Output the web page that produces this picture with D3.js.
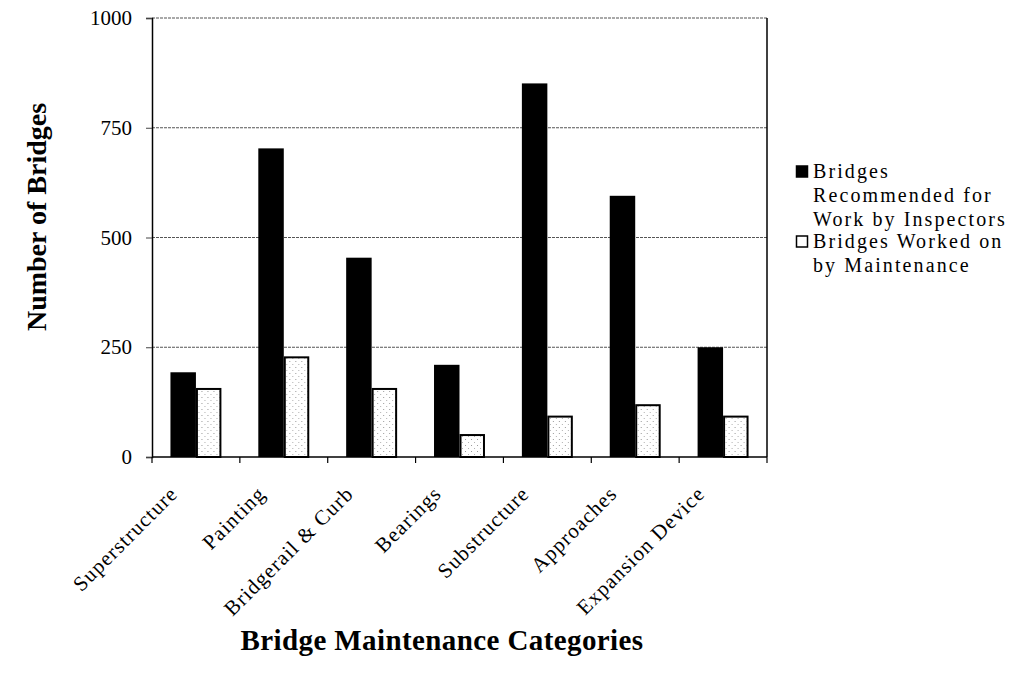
<!DOCTYPE html>
<html>
<head>
<meta charset="utf-8">
<script src="https://cdn.jsdelivr.net/npm/d3@7/dist/d3.min.js"></script>
<style>
  html, body { margin: 0; padding: 0; background: #fff; }
  svg { display: block; }
  svg text { font-family: "Liberation Serif", "Times New Roman", serif; fill: #000; }
</style>
</head>
<body>
<svg id="chart" width="1019" height="676"></svg>
<script>
// Bridge maintenance categories and counts
const categories = ["Superstructure", "Painting", "Bridgerail & Curb", "Bearings",
                    "Substructure", "Approaches", "Expansion Device"];
const recommended = [193, 703, 454, 210, 851, 595, 250];
const workedOn    = [155, 227, 155, 50, 92, 118, 92];
const seriesNames = ["Bridges Recommended for Work by Inspectors",
                     "Bridges Worked on by Maintenance"];
const legendLines = [["Bridges", "Recommended for", "Work by Inspectors"],
                     ["Bridges Worked on", "by Maintenance"]];
const yTicks = [0, 250, 500, 750, 1000];

const FONT = "'Liberation Serif', 'Times New Roman', serif";
const svg = d3.select("#chart");
const plot = { left: 152, right: 767, top: 18, bottom: 457 };

// stipple fill for the maintenance bars
const defs = svg.append("defs");
const pat = defs.append("pattern").attr("id", "stipple")
  .attr("patternUnits", "userSpaceOnUse").attr("width", 6).attr("height", 6);
pat.append("rect").attr("width", 6).attr("height", 6).attr("fill", "#fff");
pat.append("rect").attr("x", 1).attr("y", 1).attr("width", 1).attr("height", 1).attr("fill", "#9a9a9a");
pat.append("rect").attr("x", 4).attr("y", 4).attr("width", 1).attr("height", 1).attr("fill", "#b0b0b0");

const x = d3.scaleBand().domain(categories).range([plot.left, plot.right])
  .paddingInner(0.42).paddingOuter(0.21);
const xs = d3.scaleBand().domain([0, 1]).range([0, x.bandwidth()]);
const y = d3.scaleLinear().domain([0, 1000]).range([plot.bottom, plot.top]);

// horizontal gridlines
svg.append("g").selectAll("line").data(yTicks.filter(d => d > 0)).join("line")
  .attr("x1", plot.left).attr("x2", plot.right)
  .attr("y1", d => y(d)).attr("y2", d => y(d))
  .attr("stroke", "#555").attr("stroke-width", 1.2).attr("stroke-dasharray", "3,1");

// bars
const groups = svg.append("g").selectAll("g").data(categories).join("g")
  .attr("transform", d => `translate(${x(d)},0)`);
groups.append("rect")
  .attr("x", xs(0)).attr("width", xs.bandwidth())
  .attr("y", (d, i) => y(recommended[i]))
  .attr("height", (d, i) => y(0) - y(recommended[i]))
  .attr("fill", "#000");
groups.append("rect")
  .attr("x", xs(1) + 1).attr("width", xs.bandwidth() - 2)
  .attr("y", (d, i) => y(workedOn[i]))
  .attr("height", (d, i) => y(0) - y(workedOn[i]))
  .attr("fill", "url(#stipple)").attr("stroke", "#000").attr("stroke-width", 2);

// y axis
const yAxis = svg.append("g").attr("transform", `translate(${plot.left},0)`)
  .call(d3.axisLeft(y).tickValues(yTicks).tickSize(6).tickPadding(14).tickFormat(d3.format("d")));
yAxis.attr("font-family", FONT);
yAxis.select(".domain").attr("stroke", "#000").attr("stroke-width", 1.5);
yAxis.selectAll(".tick line").attr("stroke", "#444");
yAxis.selectAll(".tick text").attr("font-size", 21).attr("font-family", FONT).attr("fill", "#000");

// right border
svg.append("line").attr("x1", plot.right).attr("x2", plot.right)
  .attr("y1", plot.top).attr("y2", plot.bottom)
  .attr("stroke", "#000").attr("stroke-width", 1.5);

// x axis with ticks between categories
const boundaries = d3.range(categories.length + 1)
  .map(i => plot.left + i * (plot.right - plot.left) / categories.length);
svg.append("line").attr("x1", plot.left).attr("x2", plot.right)
  .attr("y1", plot.bottom).attr("y2", plot.bottom)
  .attr("stroke", "#000").attr("stroke-width", 1.5);
svg.append("g").selectAll("line").data(boundaries).join("line")
  .attr("x1", d => d).attr("x2", d => d)
  .attr("y1", plot.bottom).attr("y2", plot.bottom + 6)
  .attr("stroke", "#000").attr("stroke-width", 1.2);

// rotated category labels
svg.append("g").selectAll("text").data(categories).join("text")
  .attr("transform", d => `translate(${x(d) + x.bandwidth() / 2 - 17},${plot.bottom + 38}) rotate(-45)`)
  .attr("text-anchor", "end")
  .attr("font-family", FONT)
  .attr("font-size", 21).attr("letter-spacing", 1.1)
  .text(d => d);

// axis titles
svg.append("text")
  .attr("transform", "translate(46,217) rotate(-90)")
  .attr("text-anchor", "middle").attr("font-family", FONT)
  .attr("font-weight", "bold").attr("font-size", 28)
  .text("Number of Bridges");
svg.append("text")
  .attr("x", 442).attr("y", 650)
  .attr("text-anchor", "middle").attr("font-family", FONT)
  .attr("font-weight", "bold").attr("font-size", 29)
  .attr("letter-spacing", 0.4)
  .text("Bridge Maintenance Categories");

// legend
const legend = svg.append("g").attr("transform", "translate(796,0)");
const legendTops = [166, 236];
const lineStep = 24;
legendLines.forEach((lines, i) => {
  const g = legend.append("g").attr("transform", `translate(0,${legendTops[i]})`);
  g.append("rect").attr("x", 0.5).attr("y", 0).attr("width", 11).attr("height", 11)
    .attr("fill", i === 0 ? "#000" : "#fff").attr("stroke", "#000").attr("stroke-width", 1.5);
  g.append("text").attr("font-family", FONT).attr("font-size", 20).attr("letter-spacing", 2.1)
    .selectAll("tspan").data(lines).join("tspan")
    .attr("x", 17).attr("y", (d, j) => 12 + j * lineStep).text(d => d);
  g.append("title").text(seriesNames[i]);
});
</script>
</body>
</html>
